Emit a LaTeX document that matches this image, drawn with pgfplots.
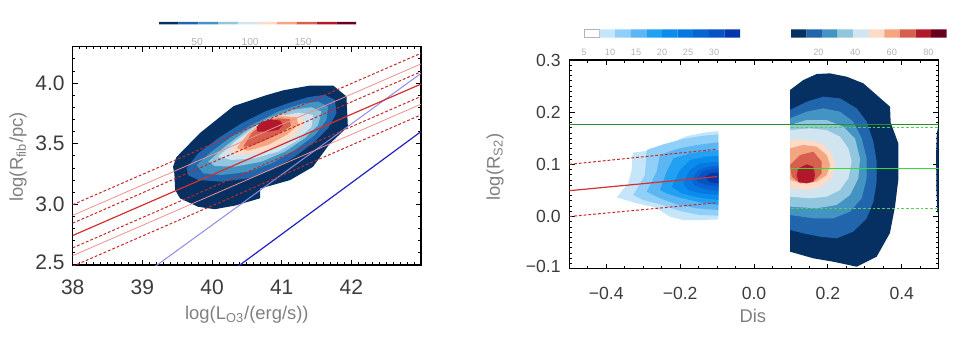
\documentclass[border=0pt]{standalone}
\usepackage{pgfplots}
\pgfplotsset{compat=1.18}
\usepackage{fontspec}
\setmainfont{Liberation Sans}
\definecolor{c1}{HTML}{053061}
\definecolor{c2}{HTML}{2166AC}
\definecolor{c3}{HTML}{4393C3}
\definecolor{c4}{HTML}{92C5DE}
\definecolor{c5}{HTML}{D1E5F0}
\definecolor{c6}{HTML}{FDDBC7}
\definecolor{c7}{HTML}{F4A582}
\definecolor{c8}{HTML}{D6604D}
\definecolor{c9}{HTML}{B2182B}
\definecolor{c10}{HTML}{67001F}
\definecolor{b1}{HTML}{FFFFFF}
\definecolor{b2}{HTML}{C5E5FA}
\definecolor{b3}{HTML}{90CFF7}
\definecolor{b4}{HTML}{5CB6F3}
\definecolor{b5}{HTML}{22A0F2}
\definecolor{b6}{HTML}{0A8CEC}
\definecolor{b7}{HTML}{0778E2}
\definecolor{b8}{HTML}{0864D2}
\definecolor{b9}{HTML}{0553C4}
\definecolor{b10}{HTML}{0336AA}
\definecolor{tickgray}{HTML}{3C3C3C}
\definecolor{labgray}{HTML}{808080}
\definecolor{cbgray}{HTML}{B4B4B4}
\definecolor{dred}{HTML}{C42828}
\definecolor{lred}{HTML}{F09090}
\definecolor{mred}{HTML}{D43030}
\definecolor{lblue}{HTML}{8C8CE6}
\definecolor{dblue}{HTML}{2222C0}
\definecolor{dgreen}{HTML}{2E8B2E}
\definecolor{bgreen}{HTML}{33DD33}
\definecolor{lgreen}{HTML}{55D055}
\pgfplotsset{
  cb/.style={anchor=south west, scale only axis, ymin=0, ymax=1,
    axis line style={draw=none}, ytick=\empty, xtick pos=bottom,
    major tick length=0pt, minor tick length=0pt,
    ticklabel style={text=cbgray}},
  panel/.style={anchor=south west, scale only axis, tick align=inside,
    major tick length=2.6pt, minor tick length=1.3pt,
    tick style={black, line width=0.4pt},
    axis line style={line width=0.6pt},
    ticklabel style={text=tickgray},
    label style={text=labgray}},
}
\begin{document}
\begin{tikzpicture}
\useasboundingbox (0,0) rectangle (478.5pt,168.5pt);

% ---------------- left colorbar
\begin{axis}[cb, at={(79.5pt,156.35pt)}, width=98.5pt, height=1.25pt,
  xmin=14, xmax=200, xtick={50,100,150}, xticklabels={50,100,150},
  xticklabel style={font=\fontsize{5.1}{6}\selectfont, yshift=-3.3pt}]
\addplot[fill=c1,draw=none] coordinates {(14,0)(32.6,0)(32.6,1)(14,1)(14,0)};
\addplot[fill=c2,draw=none] coordinates {(32.6,0)(51.2,0)(51.2,1)(32.6,1)(32.6,0)};
\addplot[fill=c3,draw=none] coordinates {(51.2,0)(69.8,0)(69.8,1)(51.2,1)(51.2,0)};
\addplot[fill=c4,draw=none] coordinates {(69.8,0)(88.4,0)(88.4,1)(69.8,1)(69.8,0)};
\addplot[fill=c5,draw=none] coordinates {(88.4,0)(107,0)(107,1)(88.4,1)(88.4,0)};
\addplot[fill=c6,draw=none] coordinates {(107,0)(125.6,0)(125.6,1)(107,1)(107,0)};
\addplot[fill=c7,draw=none] coordinates {(125.6,0)(144.2,0)(144.2,1)(125.6,1)(125.6,0)};
\addplot[fill=c8,draw=none] coordinates {(144.2,0)(162.8,0)(162.8,1)(144.2,1)(144.2,0)};
\addplot[fill=c9,draw=none] coordinates {(162.8,0)(181.4,0)(181.4,1)(162.8,1)(162.8,0)};
\addplot[fill=c10,draw=none] coordinates {(181.4,0)(200,0)(200,1)(181.4,1)(181.4,0)};
\end{axis}

% ---------------- right colorbar 1 (blues)
\begin{axis}[cb, at={(292pt,149.65pt)}, width=78pt, height=4.2pt,
  xmin=5, xmax=35, xtick={5,10,15,20,25,30}, xticklabels={5,10,15,20,25,30},
  xticklabel style={font=\fontsize{4.6}{5.5}\selectfont, yshift=-2.2pt}]
\addplot[fill=b1,draw=cbgray,line width=0.3pt] coordinates {(5,0)(8,0)(8,1)(5,1)(5,0)};
\addplot[fill=b2,draw=none] coordinates {(8,0)(11,0)(11,1)(8,1)(8,0)};
\addplot[fill=b3,draw=none] coordinates {(11,0)(14,0)(14,1)(11,1)(11,0)};
\addplot[fill=b4,draw=none] coordinates {(14,0)(17,0)(17,1)(14,1)(14,0)};
\addplot[fill=b5,draw=none] coordinates {(17,0)(20,0)(20,1)(17,1)(17,0)};
\addplot[fill=b6,draw=none] coordinates {(20,0)(23,0)(23,1)(20,1)(20,0)};
\addplot[fill=b7,draw=none] coordinates {(23,0)(26,0)(26,1)(23,1)(23,0)};
\addplot[fill=b8,draw=none] coordinates {(26,0)(29,0)(29,1)(26,1)(26,0)};
\addplot[fill=b9,draw=none] coordinates {(29,0)(32,0)(32,1)(29,1)(29,0)};
\addplot[fill=b10,draw=none] coordinates {(32,0)(35,0)(35,1)(32,1)(32,0)};
\end{axis}

% ---------------- right colorbar 2 (RdBu)
\begin{axis}[cb, at={(395.5pt,149.65pt)}, width=77.85pt, height=4.2pt,
  xmin=5, xmax=90, xtick={20,40,60,80}, xticklabels={20,40,60,80},
  xticklabel style={font=\fontsize{4.6}{5.5}\selectfont, yshift=-2.2pt}]
\addplot[fill=c1,draw=none] coordinates {(5,0)(13.5,0)(13.5,1)(5,1)(5,0)};
\addplot[fill=c2,draw=none] coordinates {(13.5,0)(22,0)(22,1)(13.5,1)(13.5,0)};
\addplot[fill=c3,draw=none] coordinates {(22,0)(30.5,0)(30.5,1)(22,1)(22,0)};
\addplot[fill=c4,draw=none] coordinates {(30.5,0)(39,0)(39,1)(30.5,1)(30.5,0)};
\addplot[fill=c5,draw=none] coordinates {(39,0)(47.5,0)(47.5,1)(39,1)(39,0)};
\addplot[fill=c6,draw=none] coordinates {(47.5,0)(56,0)(56,1)(47.5,1)(47.5,0)};
\addplot[fill=c7,draw=none] coordinates {(56,0)(64.5,0)(64.5,1)(56,1)(56,0)};
\addplot[fill=c8,draw=none] coordinates {(64.5,0)(73,0)(73,1)(64.5,1)(64.5,0)};
\addplot[fill=c9,draw=none] coordinates {(73,0)(81.5,0)(81.5,1)(73,1)(73,0)};
\addplot[fill=c10,draw=none] coordinates {(81.5,0)(90,0)(90,1)(81.5,1)(81.5,0)};
\end{axis}

% ---------------- left panel
\begin{axis}[panel, at={(36.35pt,36pt)}, width=174.15pt, height=109.15pt,
  xmin=38, xmax=43, ymin=2.5, ymax=4.3,
  xtick={38,39,40,41,42}, xticklabels={38,39,40,41,42},
  ytick={2.5,3,3.5,4}, yticklabels={\raisebox{3pt}{2.5},3.0,3.5,4.0},
  minor xtick={38,38.1,...,43}, minor ytick={2.5,2.6,...,4.3},
  ticklabel style={font=\fontsize{10.5}{12}\selectfont},
  xticklabel style={yshift=-4pt}, yticklabel style={xshift=-0.5pt},
  xlabel={log(L\textsubscript{O3}/(erg/s))}, ylabel={log(R\textsubscript{fib}/pc)},
  xlabel style={at={(axis description cs:0.5,-0.229)}, anchor=center, font=\fontsize{9.2}{11}\selectfont},
  ylabel style={at={(axis description cs:-0.157,0.495)}, anchor=center, font=\fontsize{9.2}{11}\selectfont}]
\addplot[fill=c1,draw=none] coordinates {(39.44,3.31)(39.49,3.39)(39.83,3.59)(40.31,3.81)(40.78,3.90)(41.02,3.94)(41.41,3.98)(41.74,3.98)(41.93,3.89)(41.95,3.64)(41.69,3.50)(41.45,3.31)(41.12,3.20)(40.69,3.13)(40.69,3.05)(40.33,2.99)(40.04,2.96)(39.80,2.98)(39.54,3.05)(39.47,3.12)(39.46,3.25)(39.44,3.31)};
\addplot[fill=c2,draw=none] coordinates {(39.635,3.297)(39.802,3.421)(40.089,3.545)(40.424,3.669)(40.759,3.765)(41.093,3.834)(41.380,3.884)(41.619,3.903)(41.763,3.862)(41.787,3.752)(41.667,3.628)(41.476,3.517)(41.189,3.393)(40.854,3.283)(40.519,3.214)(40.137,3.187)(39.802,3.201)(39.659,3.242)(39.635,3.297)};
\addplot[fill=c3,draw=none] coordinates {(39.778,3.324)(39.993,3.435)(40.280,3.559)(40.615,3.669)(40.950,3.765)(41.285,3.829)(41.524,3.848)(41.667,3.807)(41.643,3.696)(41.476,3.572)(41.189,3.448)(40.854,3.338)(40.519,3.269)(40.137,3.242)(39.874,3.256)(39.778,3.324)};
\addplot[fill=c4,draw=none] coordinates {(39.946,3.352)(40.185,3.476)(40.472,3.600)(40.806,3.710)(41.141,3.779)(41.428,3.801)(41.572,3.765)(41.524,3.655)(41.332,3.545)(41.046,3.435)(40.711,3.352)(40.328,3.311)(40.041,3.316)(39.946,3.352)};
\addplot[fill=c5,draw=none] coordinates {(40.089,3.393)(40.328,3.517)(40.615,3.641)(40.950,3.724)(41.237,3.757)(41.452,3.738)(41.428,3.641)(41.237,3.531)(40.950,3.435)(40.615,3.380)(40.280,3.366)(40.089,3.393)};
\addplot[fill=c6,draw=none] coordinates {(40.257,3.435)(40.472,3.559)(40.711,3.669)(40.998,3.738)(41.285,3.729)(41.332,3.655)(41.165,3.559)(40.902,3.462)(40.567,3.415)(40.328,3.407)(40.257,3.435)};
\addplot[fill=c7,draw=none] coordinates {(40.352,3.462)(40.519,3.586)(40.735,3.683)(40.974,3.729)(41.213,3.718)(41.237,3.655)(41.069,3.572)(40.806,3.490)(40.519,3.443)(40.352,3.462)};
\addplot[fill=c8,draw=none] coordinates {(40.448,3.476)(40.567,3.586)(40.735,3.669)(40.950,3.710)(41.117,3.702)(41.132,3.647)(40.974,3.586)(40.759,3.526)(40.567,3.482)(40.448,3.476)};
\addplot[fill=c9,draw=none] coordinates {(40.639,3.636)(40.711,3.680)(40.845,3.702)(40.974,3.691)(41.022,3.655)(40.950,3.614)(40.806,3.600)(40.653,3.600)(40.639,3.636)};
% lines
\addplot[lblue, line width=0.5pt] coordinates {(39.08,2.445)(43,4.08)};
\addplot[dblue, line width=0.6pt] coordinates {(40.27,2.445)(43,3.60)};
\addplot[dred, line width=0.5pt, dash pattern=on 1.4pt off 1pt] coordinates {(38,2.997)(43,4.246)};
\addplot[lred, line width=0.4pt] coordinates {(38,2.909)(43,4.158)};
\addplot[dred, line width=0.5pt, dash pattern=on 1.4pt off 1pt] coordinates {(38,2.845)(43,4.094)};
\addplot[mred, line width=0.6pt] coordinates {(38,2.743)(43,3.992)};
\addplot[dred, line width=0.5pt, dash pattern=on 1.4pt off 1pt] coordinates {(38,2.641)(43,3.890)};
\addplot[lred, line width=0.4pt] coordinates {(38,2.577)(43,3.826)};
\addplot[dred, line width=0.5pt, dash pattern=on 1.4pt off 1pt] coordinates {(38,2.489)(43,3.738)};
\end{axis}

% ---------------- right panel
\begin{axis}[panel, at={(284.65pt,34.15pt)}, width=184.7pt, height=104.35pt,
  xmin=-0.5, xmax=0.5, ymin=-0.1, ymax=0.3,
  xtick={-0.4,-0.2,0,0.2,0.4}, xticklabels={−0.4,−0.2,0.0,0.2,0.4},
  ytick={-0.1,0,0.1,0.2,0.3}, yticklabels={\raisebox{2.8pt}{−0.1},0.0,0.1,0.2,\raisebox{-3.2pt}{0.3}},
  minor xtick={-0.5,-0.45,...,0.5}, minor ytick={-0.1,-0.09,...,0.3},
  ticklabel style={font=\fontsize{8.8}{10}\selectfont},
  xticklabel style={yshift=-5.5pt}, yticklabel style={xshift=-0.8pt},
  xlabel={Dis}, ylabel={log(R\textsubscript{S2})},
  xlabel style={at={(axis description cs:0.497,-0.227)}, anchor=center, font=\fontsize{9.2}{11}\selectfont},
  ylabel style={at={(axis description cs:-0.201,0.487)}, anchor=center, font=\fontsize{9.2}{11}\selectfont}]
% blue contours
\addplot[fill=b2,draw=none] coordinates {(-0.3718,0.0368)(-0.3402,0.0636)(-0.3312,0.0892)(-0.3285,0.1224)(-0.2860,0.1262)(-0.2274,0.1390)(-0.1868,0.1531)(-0.1372,0.1607)(-0.0965,0.1639)(-0.0965,-0.0054)(-0.1372,-0.0067)(-0.1913,-0.0067)(-0.2274,-0.0003)(-0.2680,0.0176)(-0.3176,0.0253)(-0.3718,0.0368)};
\addplot[fill=b3,draw=none] coordinates {(-0.3267,0.0413)(-0.2951,0.0796)(-0.2906,0.1275)(-0.2454,0.1384)(-0.1913,0.1486)(-0.1372,0.1550)(-0.0966,0.1575)(-0.0966,0.0017)(-0.1462,0.0029)(-0.2003,0.0106)(-0.2545,0.0234)(-0.2996,0.0317)(-0.3267,0.0413)};
\addplot[fill=b4,draw=none] coordinates {(-0.2906,0.0476)(-0.2635,0.0860)(-0.2545,0.1179)(-0.2093,0.1294)(-0.1552,0.1371)(-0.0966,0.1422)(-0.0966,0.0125)(-0.1552,0.0157)(-0.2093,0.0234)(-0.2545,0.0349)(-0.2906,0.0476)};
\addplot[fill=b5,draw=none] coordinates {(-0.2545,0.0508)(-0.2364,0.0860)(-0.2184,0.1115)(-0.1733,0.1211)(-0.1281,0.1256)(-0.0966,0.1275)(-0.0966,0.0221)(-0.1462,0.0272)(-0.2003,0.0362)(-0.2364,0.0444)(-0.2545,0.0508)};
\addplot[fill=b6,draw=none] coordinates {(-0.2229,0.0572)(-0.2003,0.0892)(-0.1733,0.1083)(-0.1281,0.1147)(-0.0966,0.1166)(-0.0966,0.0317)(-0.1462,0.0362)(-0.1958,0.0444)(-0.2229,0.0572)};
\addplot[fill=b7,draw=none] coordinates {(-0.1913,0.0636)(-0.1733,0.0892)(-0.1462,0.1019)(-0.0966,0.1051)(-0.0966,0.0413)(-0.1417,0.0444)(-0.1778,0.0508)(-0.1913,0.0636)};
\addplot[fill=b8,draw=none] coordinates {(-0.1687,0.0700)(-0.1507,0.0892)(-0.1236,0.0955)(-0.0966,0.0975)(-0.0966,0.0489)(-0.1326,0.0528)(-0.1597,0.0592)(-0.1687,0.0700)};
\addplot[fill=b9,draw=none] coordinates {(-0.1552,0.0732)(-0.1372,0.0873)(-0.0966,0.0924)(-0.0966,0.0572)(-0.1281,0.0604)(-0.1507,0.0656)(-0.1552,0.0732)};
\addplot[fill=b10,draw=none] coordinates {(-0.1326,0.0764)(-0.1191,0.0828)(-0.0966,0.0847)(-0.0966,0.0636)(-0.1191,0.0655)(-0.1326,0.0764)};
% RdBu contours
\addplot[fill=c1,draw=none] coordinates {(0.0975,0.2425)(0.1336,0.2616)(0.1697,0.2732)(0.2058,0.2744)(0.2509,0.2680)(0.2960,0.2553)(0.3321,0.2329)(0.3682,0.2105)(0.3700,0.1800)(0.3906,0.1403)(0.3906,0.0700)(0.3817,0.0189)(0.3680,-0.0316)(0.3321,-0.0770)(0.2780,-0.0962)(0.2147,-0.0866)(0.1606,-0.0801)(0.0975,-0.0674)(0.0975,0.2425)};
\addplot[fill=c2,draw=none] coordinates {(0.0975,0.2042)(0.1426,0.2201)(0.1877,0.2297)(0.2328,0.2265)(0.2780,0.2074)(0.3050,0.1818)(0.3231,0.1435)(0.3321,0.1051)(0.3321,0.0668)(0.3231,0.0285)(0.3050,-0.0035)(0.2689,-0.0290)(0.2238,-0.0418)(0.1787,-0.0386)(0.1336,-0.0322)(0.0975,-0.0258)(0.0975,0.2042)};
\addplot[fill=c3,draw=none] coordinates {(0.0975,0.1882)(0.1426,0.2010)(0.1877,0.2074)(0.2328,0.2010)(0.2689,0.1818)(0.2915,0.1499)(0.3050,0.1115)(0.3050,0.0732)(0.2915,0.0349)(0.2599,0.0093)(0.2148,-0.0035)(0.1606,-0.0035)(0.0975,0.0029)(0.0975,0.1882)};
\addplot[fill=c4,draw=none] coordinates {(0.0975,0.1754)(0.1426,0.1850)(0.1967,0.1850)(0.2418,0.1722)(0.2734,0.1499)(0.2870,0.1115)(0.2825,0.0732)(0.2599,0.0412)(0.2238,0.0221)(0.1697,0.0157)(0.0975,0.0189)(0.0975,0.1754)};
\addplot[fill=c5,draw=none] coordinates {(0.0975,0.1658)(0.1516,0.1690)(0.1967,0.1658)(0.2328,0.1530)(0.2554,0.1307)(0.2644,0.1051)(0.2554,0.0732)(0.2328,0.0508)(0.1967,0.0380)(0.1516,0.0348)(0.0975,0.0380)(0.0975,0.1658)};
\addplot[fill=c6,draw=none] coordinates {(0.0975,0.1467)(0.1426,0.1467)(0.1832,0.1403)(0.2103,0.1211)(0.2193,0.0988)(0.2103,0.0732)(0.1832,0.0572)(0.1426,0.0508)(0.0975,0.0540)(0.0975,0.1467)};
\addplot[fill=c7,draw=none] coordinates {(0.0975,0.1307)(0.1336,0.1371)(0.1697,0.1339)(0.1967,0.1179)(0.2058,0.0988)(0.1967,0.0796)(0.1697,0.0668)(0.1336,0.0636)(0.0975,0.0700)(0.0975,0.1307)};
\addplot[fill=c8,draw=none] coordinates {(0.1065,0.1051)(0.1245,0.1179)(0.1606,0.1243)(0.1832,0.1051)(0.1832,0.0828)(0.1606,0.0668)(0.1245,0.0636)(0.1020,0.0764)(0.0975,0.0988)(0.1065,0.1051)};
\addplot[fill=c9,draw=none] coordinates {(0.1200,0.0924)(0.1426,0.1000)(0.1606,0.0955)(0.1652,0.0796)(0.1606,0.0668)(0.1426,0.0636)(0.1200,0.0668)(0.1155,0.0796)(0.1200,0.0924)};
\addplot[fill=c1,draw=none] coordinates {(0.5,-0.001)(0.496,0.012)(0.494,0.05)(0.493,0.12)(0.495,0.16)(0.5,0.176)(0.5,-0.001)};
% lines
\addplot[mred, line width=0.6pt] coordinates {(-0.5,0.0495)(-0.1,0.0765)};
\addplot[dred, line width=0.5pt, dash pattern=on 1.4pt off 1pt] coordinates {(-0.5,0.100)(-0.1,0.129)};
\addplot[dred, line width=0.5pt, dash pattern=on 1.4pt off 1pt] coordinates {(-0.5,0.0)(-0.1,0.0265)};
\addplot[dgreen, line width=0.5pt] coordinates {(-0.5,0.176)(0.5,0.176)};
\addplot[lgreen, line width=0.5pt, dash pattern=on 1.4pt off 1pt] coordinates {(0.1,0.1697)(0.5,0.1697)};
\addplot[bgreen, line width=0.7pt] coordinates {(0.1,0.0925)(0.5,0.0925)};
\addplot[lgreen, line width=0.5pt, dash pattern=on 1.4pt off 1pt] coordinates {(0.1,0.016)(0.5,0.016)};
\end{axis}
\end{tikzpicture}
\end{document}
